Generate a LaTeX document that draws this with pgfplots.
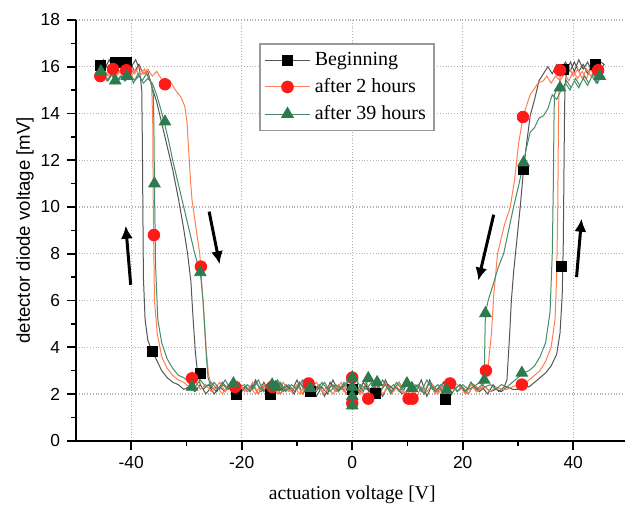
\documentclass[border=0pt]{standalone}
\usepackage{fontspec}
\setmainfont{Liberation Serif}
\setsansfont{Liberation Sans}
\usepackage{pgfplots}
\pgfplotsset{compat=1.18}
\usetikzlibrary{arrows.meta}

\definecolor{lblack}{HTML}{555555}
\definecolor{lred}{HTML}{FF7F50}
\definecolor{lgreen}{HTML}{468C6A}
\definecolor{mred}{HTML}{FF1A1A}
\definecolor{mgreen}{HTML}{2E7A4F}

\begin{document}
\begin{tikzpicture}
\begin{axis}[
    scale only axis,
    width=276.25pt,
    height=210.35pt,
    xmin=-50, xmax=50,
    ymin=0, ymax=18,
    axis x line*=bottom,
    axis y line*=left,
    axis line style={line width=0.9pt},
    tick align=outside,
    tick style={black, line width=0.8pt},
    major tick length=4.5pt,
    minor tick length=2.5pt,
    xtick={-40,-20,0,20,40},
    ytick={0,2,...,18},
    minor x tick num=1,
    minor y tick num=1,
    grid=major,
    major grid style={densely dotted, gray!60, line width=0.6pt},
    /pgf/number format/assume math mode=true,
    ticklabel style={font=\fontsize{8.7}{10}\selectfont\sffamily},
    xlabel={actuation voltage [V]},
    ylabel={detector diode voltage [mV]},
    every axis x label/.style={at={(axis description cs:0.5,-0.129)}, anchor=center, font=\fontsize{9.8}{12}\selectfont\rmfamily},
    every axis y label/.style={at={(axis description cs:-0.092,0.5)}, anchor=center, rotate=90, font=\fontsize{9.3}{11}\selectfont\sffamily},
    legend style={at={(axis cs:-16.8,17.0)}, anchor=north west, draw=gray!80, line width=0.8pt,
        font=\fontsize{10}{12}\selectfont\rmfamily, row sep=1pt, inner sep=2pt},
    legend cell align=left,
    legend image code/.code={\draw[#1, mark repeat=2, mark phase=2] plot coordinates {(0cm,0cm) (0.4cm,0cm) (0.8cm,0cm)};},
]
% Beginning: line
\addplot[lblack, line width=0.5pt, forget plot] coordinates {
(0,2.3)(1,2.0)(2,2.5)(3,2.1)(4,2.4)(5,2.0)(6,2.6)(7,2.1)(8,2.3)(9,2.0)(10,2.5)(11,2.2)(12,2.4)(13,2.0)(14,2.6)(15,2.1)(16,2.3)(17,1.8)(18,2.4)(19,2.1)(20,2.3)(21,2.0)(22,2.4)(23,2.1)(24,2.3)(25,2.1)(26,2.2)(27,2.1)(28,2.3)(29,2.2)(30,2.2)(31,2.4)(32,2.3)(33,2.5)(34,2.7)(35,2.9)(36,3.2)(37,3.7)(37.6,4.6)(38,6.2)(38.2,8.5)(38.3,11)(38.4,13.5)(38.5,15.2)(38.9,15.9)(39.5,16.2)(40.2,15.8)(41,16.3)(41.8,15.9)(42.6,16.2)(43.4,15.8)(44.2,16.2)(45,15.9)(45.6,16.1)
(45,16.2)(44.2,15.8)(43.4,16.1)(42.6,15.7)(41.8,16.1)(41,15.8)(40.2,16.2)(39.4,15.8)(38.6,16.2)(37.8,15.9)(37,16.1)(36.2,15.7)(35.4,16.0)(34.6,15.7)(33.8,15.4)(33,14.6)(32.2,13.9)(31.5,12.6)(31,11.6)(30.4,10.0)(29.8,8.6)(29.2,7.2)(28.8,6.0)(28.5,4.6)(28.2,3.4)(28,2.6)(27.5,2.3)
(26.5,2.1)(25.5,2.4)(24.5,2.0)(23.5,2.3)(22.5,2.1)(21.5,2.5)(20.5,2.0)(19.5,2.4)(18.5,2.2)(17.5,1.8)(16.5,2.5)(15.5,2.1)(14.5,2.4)(13.5,1.9)(12.5,2.6)(11.5,2.1)(10.5,2.3)(9.5,2.0)(8.5,2.5)(7.5,2.2)(6.5,2.4)(5.5,1.9)(4.5,2.3)(3.5,2.0)(2.5,2.4)(1.5,2.1)(0.5,2.3)(-0.5,2.0)(-1.5,2.4)(-2.5,2.1)(-3.5,2.6)(-4.5,2.0)(-5.5,2.3)(-6.5,1.9)(-7.5,2.4)(-8.5,2.1)(-9.5,2.5)(-10.5,2.0)(-11.5,2.3)(-12.5,2.1)(-13.5,2.5)(-14.5,2.0)(-15.5,2.3)(-16.5,2.1)(-17.5,2.6)(-18.5,2.1)(-19.5,2.3)(-20.5,2.0)(-21.5,2.4)(-22.5,2.2)(-23.5,2.5)(-24.5,2.1)(-25.5,2.3)(-26.5,2.0)(-27.5,2.4)(-28.5,2.1)(-29.5,2.3)(-30.5,2.2)(-31.5,2.4)(-32.5,2.5)(-33.5,2.7)(-34.5,3.0)(-35.5,3.5)(-36.2,3.8)(-37,4.3)(-37.5,5.2)(-37.8,7.0)(-37.9,10)(-38,13)(-38.1,15.0)(-38.5,15.9)(-39.2,16.3)(-40,16.0)(-40.8,16.3)(-41.6,15.9)(-42.4,16.2)(-43.2,15.9)(-44,16.3)(-44.8,15.9)(-45.6,16.1)
(-45,16.3)(-44.2,15.9)(-43.4,16.2)(-42.6,15.9)(-41.8,16.3)(-41,15.9)(-40.2,16.2)(-39.4,15.8)(-38.6,16.1)(-37.8,15.7)(-37,15.8)(-36.2,15.1)(-35.4,14.5)(-34.5,13.6)(-33.5,12.6)(-32.5,11.6)(-31.5,10.4)(-30.6,9.2)(-29.8,8.0)(-29.2,6.8)(-28.8,5.2)(-28.4,3.8)(-28,2.9)(-27.5,2.4)
(-27,2.2)(-26,2.4)(-25,2.0)(-24,2.3)(-23,2.1)(-22,2.5)(-21,2.0)(-20,2.3)(-19,2.1)(-18,2.4)(-17,2.0)(-16,2.5)(-15,2.1)(-14,2.3)(-13,2.0)(-12,2.4)(-11,2.1)(-10,2.6)(-9,2.0)(-8,2.3)(-7,2.1)(-6,2.4)(-5,1.9)(-4,2.5)(-3,2.1)(-2,2.3)(-1,2.0)(0,2.3)
};
% after 2 hours: line
\addplot[lred, line width=0.5pt, forget plot] coordinates {
(0,2.6)(0.5,1.6)(1,2.3)(2,2.0)(3,1.8)(4,2.4)(5,2.1)(6,2.5)(7,2.0)(8,2.3)(9,2.1)(10,1.8)(11,1.8)(12,2.4)(13,2.1)(14,2.5)(15,2.0)(16,2.3)(17,2.4)(18,2.5)(19,2.1)(20,2.3)(21,2.0)(22,2.4)(23,2.2)(24,2.3)(25,2.1)(26,2.3)(27,2.2)(28,2.2)(29,2.3)(30,2.4)(31,2.4)(32,2.6)(33,2.8)(34,3.0)(35,3.4)(36,4.0)(36.7,5.2)(37,7.0)(37.2,10)(37.3,13)(37.4,15.0)(37.7,15.8)(38.4,15.7)(39.2,16.0)(40,15.6)(40.8,15.9)(41.6,15.5)(42.4,15.9)(43.2,15.6)(44,15.9)(44.8,15.7)
(44,15.6)(43.2,15.9)(42.4,15.5)(41.6,15.8)(40.8,15.5)(40,15.8)(39.2,15.4)(38.4,15.7)(37.6,15.4)(36.8,15.6)(36,15.3)(35.2,15.6)(34.6,15.4)(33.6,15.3)(32.8,15.0)(32.2,14.8)(31.5,14.3)(30.9,13.85)(30.1,12.7)(29.4,11.2)(28.6,10.0)(27.5,9.2)(26.3,8.0)(25.6,6.2)(25.2,4.6)(24.6,3.2)(24.2,2.6)(23.5,2.3)
(22.5,2.1)(21.5,2.4)(20.5,2.0)(19.5,2.3)(18.5,2.5)(17.5,2.1)(16.5,2.3)(15.5,2.0)(14.5,2.4)(13.5,2.1)(12.5,2.3)(11.5,1.8)(10.5,2.4)(9.5,2.0)(8.5,2.5)(7.5,2.1)(6.5,2.3)(5.5,2.0)(4.5,2.4)(3.5,2.1)(2.5,2.5)(1.5,2.0)(0.5,2.4)(0,1.6)(-0.5,2.7)(-1.5,2.1)(-2.5,2.4)(-3.5,2.0)(-4.5,2.3)(-5.5,2.1)(-6.5,2.5)(-7.5,2.2)(-8.5,2.4)(-9.5,2.0)(-10.5,2.3)(-11.5,2.1)(-12.5,2.5)(-13.5,2.0)(-14.5,2.3)(-15.5,2.1)(-16.5,2.4)(-17.5,2.0)(-18.5,2.3)(-19.5,2.1)(-20.5,2.5)(-21.5,2.2)(-22.5,2.4)(-23.5,2.0)(-24.5,2.3)(-25.5,2.1)(-26.5,2.4)(-27.5,2.2)(-28.5,2.6)(-29.5,2.3)(-30.5,2.5)(-31.5,2.6)(-32.5,2.8)(-33.5,3.1)(-34.5,3.6)(-35.3,4.6)(-35.8,6.0)(-35.95,8.8)(-36.05,11)(-36.1,13.5)(-36.3,15.2)(-36.9,15.6)(-37.6,15.9)(-38.4,15.6)(-39.2,15.9)(-40,15.6)(-40.8,15.9)(-41.6,15.6)(-42.4,15.9)(-43.2,15.7)(-44,15.9)(-44.8,15.5)(-45.6,15.7)
(-45,15.9)(-44.2,15.6)(-43.4,15.9)(-42.6,15.6)(-41.8,15.9)(-41,15.6)(-40.2,15.9)(-39.4,15.7)(-38.6,16.0)(-37.8,15.7)(-37,15.9)(-36.2,15.6)(-35.4,15.8)(-34.6,15.5)(-33.8,15.3)(-33,15.4)(-32,15.0)(-31,14.7)(-30.3,14.3)(-29.9,13.6)(-29.6,12.4)(-29.3,11.2)(-29,10.3)(-28.4,9.3)(-27.6,8.0)(-27.2,6.6)(-26.8,5.2)(-26.4,3.8)(-26,2.8)(-25.5,2.4)
(-25,2.2)(-24,2.5)(-23,2.1)(-22,2.4)(-21,2.0)(-20,2.3)(-19,2.1)(-18,2.5)(-17,2.0)(-16,2.4)(-15,2.2)(-14,2.5)(-13,2.0)(-12,2.3)(-11,2.1)(-10,2.4)(-9,2.0)(-8,2.6)(-7,2.1)(-6,2.3)(-5,2.0)(-4,2.4)(-3,2.1)(-2,2.5)(-1,2.0)(0,2.6)
};
% after 39 hours: line
\addplot[lgreen, line width=0.5pt, forget plot] coordinates {
(0,1.5)(0,2.8)(0.5,2.2)(1,2.5)(2,2.1)(3,2.7)(4,2.2)(4.5,2.5)(5,2.1)(6,2.4)(7,2.0)(8,2.5)(9,2.2)(10,2.5)(11,2.2)(12,2.4)(13,2.0)(14,2.5)(15,2.1)(16,2.4)(17,2.2)(18,2.5)(19,2.1)(20,2.4)(21,2.2)(22,2.3)(23,2.5)(24,2.3)(25,2.4)(26,2.2)(27,2.4)(28,2.3)(29,2.5)(30,2.7)(31,2.9)(32,3.0)(33,3.2)(34,3.6)(35,4.2)(35.8,5.5)(36.2,8)(36.4,11)(36.5,13.5)(36.6,14.8)(37.2,15.2)(38,15.0)(38.8,15.4)(39.6,15.1)(40.4,15.5)(41.2,15.2)(42,15.6)(42.8,15.3)(43.6,15.7)(44.4,15.3)(45,15.6)
(44.2,15.3)(43.4,15.6)(42.6,15.2)(41.8,15.5)(41,15.1)(40.2,15.4)(39.4,15.0)(38.6,15.3)(37.8,15.0)(37,14.6)(36.2,14.8)(35.4,14.2)(34.6,13.9)(33.8,13.8)(33,13.4)(32.2,13.2)(31.5,12.5)(31,11.9)(30.2,11.0)(29.2,10.0)(28.3,9.0)(27.4,8.0)(26.4,7.4)(25.4,6.6)(24.6,6.0)(24.1,5.45)(24,4.2)(23.9,2.9)(23.5,2.4)
(22.5,2.2)(21.5,2.5)(20.5,2.1)(19.5,2.4)(18.5,2.2)(17.5,2.5)(16.5,2.0)(15.5,2.4)(14.5,2.2)(13.5,2.6)(12.5,2.1)(11.5,2.4)(10.5,2.2)(9.5,2.5)(8.5,2.1)(7.5,2.4)(6.5,2.2)(5.5,2.6)(4.5,2.1)(3.5,2.5)(2.5,2.2)(1.5,2.4)(0.5,2.0)(0,2.6)(-0.5,2.2)(-1.5,2.5)(-2.5,2.1)(-3.5,2.4)(-4.5,2.2)(-5.5,2.5)(-6.5,2.1)(-7.5,2.4)(-8.5,2.2)(-9.5,2.5)(-10.5,2.1)(-11.5,2.4)(-12.5,2.2)(-13.5,2.6)(-14.5,2.1)(-15.5,2.4)(-16.5,2.2)(-17.5,2.5)(-18.5,2.1)(-19.5,2.4)(-20.5,2.3)(-21.5,2.6)(-22.5,2.2)(-23.5,2.4)(-24.5,2.2)(-25.5,2.5)(-26.5,2.3)(-27.5,2.6)(-28.5,2.3)(-29.5,2.5)(-30.5,2.7)(-31.5,2.8)(-32.5,3.1)(-33.5,3.5)(-34.5,4.2)(-35.2,5.2)(-35.6,7.5)(-35.8,11)(-35.9,13.5)(-36,14.8)(-36.5,15.4)(-37.3,15.7)(-38,15.4)(-38.8,15.7)(-39.6,15.3)(-40.4,15.7)(-41.2,15.4)(-42,15.6)(-42.8,15.3)(-43.6,15.7)(-44.4,15.4)(-45.2,15.8)(-45.8,15.5)
(-45,15.7)(-44.2,15.4)(-43.4,15.7)(-42.6,15.3)(-41.8,15.6)(-41,15.4)(-40.2,15.7)(-39.4,15.4)(-38.6,15.6)(-37.8,15.3)(-37,15.5)(-36.2,15.3)(-35.4,14.8)(-34.8,14.3)(-34.1,13.7)(-33.3,12.9)(-32.4,11.9)(-31.5,11.0)(-30.7,10.2)(-30,9.5)(-29.2,8.7)(-28.5,8.0)(-27.5,7.2)(-27,6.0)(-26.7,4.8)(-26.4,3.6)(-26.1,2.7)(-25.6,2.3)
(-25,2.5)(-24,2.2)(-23,2.6)(-22,2.2)(-21,2.5)(-20,2.1)(-19,2.4)(-18,2.2)(-17,2.6)(-16,2.1)(-15,2.4)(-14,2.2)(-13,2.5)(-12,2.1)(-11,2.4)(-10,2.2)(-9,2.6)(-8,2.1)(-7,2.4)(-6,2.2)(-5,2.5)(-4,2.1)(-3,2.4)(-2,2.2)(-1,2.5)(0,2.1)
};
% markers
\addplot[only marks, mark=square*, mark size=2.5pt, black, forget plot] coordinates {
(-45.6,16.05)(-42.9,16.2)(-40.9,16.2)(-36.2,3.8)(-27.5,2.9)(-20.9,1.96)(-14.8,2.0)(-7.5,2.1)(0,2.2)(4.2,2.03)(16.8,1.75)(31,11.6)(37.9,7.45)(44,16.1)(38.3,15.9)
};
\addplot[only marks, mark=*, mark size=2.9pt, mred, forget plot] coordinates {
(-45.6,15.6)(-43.3,15.9)(-40.9,15.85)(-33.9,15.25)(-35.9,8.8)(-27.4,7.45)(-29,2.67)(-21.2,2.3)(-14.5,2.3)(-7.9,2.45)(0,2.7)(0,1.6)(2.9,1.8)(10.2,1.8)(10.9,1.8)(17.7,2.45)(24.2,3.0)(30.7,2.4)(30.9,13.85)(37.6,15.85)(44.5,15.85)
};
\addplot[only marks, mark=triangle*, mark size=3.3pt, mgreen, forget plot] coordinates {
(-45.5,15.8)(-42.9,15.4)(-40.8,15.6)(-33.9,13.65)(-35.8,11)(-27.5,7.2)(-29,2.3)(-21.5,2.45)(-14.5,2.4)(-13.8,2.3)(-7.6,2.25)(0,2.7)(0,2.3)(0,1.9)(0,1.5)(2.9,2.67)(4.5,2.5)(9.9,2.45)(10.8,2.25)(17.1,2.17)(23.9,2.6)(24.1,5.45)(30.7,2.9)(31,11.9)(37.6,15.1)(44.8,15.6)
};
\addlegendimage{lblack, line width=0.5pt, mark=square*, mark size=2.5pt, mark options={fill=black, draw=black}}
\addlegendentry{Beginning}
\addlegendimage{lred, line width=0.5pt, mark=*, mark size=2.9pt, mark options={fill=mred, draw=mred}}
\addlegendentry{after 2 hours}
\addlegendimage{lgreen, line width=0.5pt, mark=triangle*, mark size=3.3pt, mark options={fill=mgreen, draw=mgreen}}
\addlegendentry{after 39 hours}
% direction arrows
\draw[-{Latex[length=6.5pt,width=6pt]}, line width=1.5pt] (axis cs:-40.1,6.67) -- (axis cs:-41.0,9.2);
\draw[-{Latex[length=6.5pt,width=6pt]}, line width=1.5pt] (axis cs:-25.9,9.8) -- (axis cs:-24.0,7.55);
\draw[-{Latex[length=6.5pt,width=6pt]}, line width=1.5pt] (axis cs:25.6,9.67) -- (axis cs:22.8,6.85);
\draw[-{Latex[length=6.5pt,width=6pt]}, line width=1.5pt] (axis cs:40.6,7.0) -- (axis cs:41.5,9.5);
\end{axis}
\pgfresetboundingbox
\path[use as bounding box] ([shift={(-38pt,-32.15pt)}]current axis.south west) rectangle ([shift={(274.5pt,220.35pt)}]current axis.south west);
\end{tikzpicture}
\end{document}
